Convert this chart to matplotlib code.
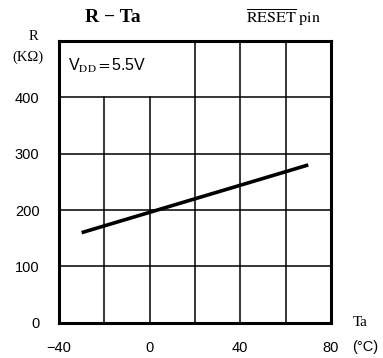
import matplotlib
matplotlib.use("Agg")
import matplotlib.pyplot as plt

# data
ta = [-30, 70]
r_kohm = [160, 280]

xticks = [-40, 0, 40, 80]
xticklabels = ["\u221240", "0", "40", "80"]
yticks = [0, 100, 200, 300, 400]
xgrid = [-20, 0, 20, 40, 60]
ygrid = [100, 200, 300, 400]

plt.rcParams["mathtext.fontset"] = "stix"
sans = "Liberation Sans"
serif = "Liberation Serif"

fig = plt.figure(figsize=(3.83, 3.58), dpi=100)
ax = fig.add_axes([0.154, 0.098, 0.710, 0.788])
ax.set_xlim(-40, 80)
ax.set_ylim(0, 500)

# grid: the left part of the top row is kept free for the condition label
for x in xgrid:
    top = 400 if x < 20 else 500
    ax.plot([x, x], [0, top], color="black", lw=1.1, zorder=1)
for y in ygrid:
    ax.plot([-40, 80], [y, y], color="black", lw=1.1, zorder=1)

ax.plot(ta, r_kohm, color="black", lw=2.6, solid_capstyle="butt", zorder=3)

for s in ax.spines.values():
    s.set_linewidth(2.2)

ax.set_xticks(xticks)
ax.set_xticklabels(xticklabels, fontfamily=sans, fontsize=10.5)
ax.set_yticks(yticks)
ax.set_yticklabels([str(v) for v in yticks], fontfamily=sans, fontsize=10.5)
ax.tick_params(axis="x", length=0, pad=13)
ax.tick_params(axis="y", length=0, pad=14)

ax.text(-36, 455, r"V$_{\mathrm{DD}}$$=$5.5V", fontfamily=sans, fontsize=11.5,
        va="center", ha="left")

fig.text(0.295, 0.95, "R \u2212 Ta", fontfamily=serif, fontsize=14,
         fontweight="bold", ha="center", va="center")
fig.text(0.74, 0.952, r"$\overline{\mathrm{RESET}}\ \mathrm{pin}$", fontsize=11.5,
         ha="center", va="center")
fig.text(0.086, 0.898, "R", fontfamily=serif, fontsize=10.5, ha="center", va="center")
fig.text(0.072, 0.84, "(K\u03a9)", fontfamily=serif, fontsize=10.5, ha="center", va="center")
fig.text(0.94, 0.1, "Ta", fontfamily=serif, fontsize=11, ha="center", va="center")
fig.text(0.953, 0.03, "(\u00b0C)", fontfamily=sans, fontsize=10.5, ha="center", va="center")

fig.savefig("out.png", dpi=100)
